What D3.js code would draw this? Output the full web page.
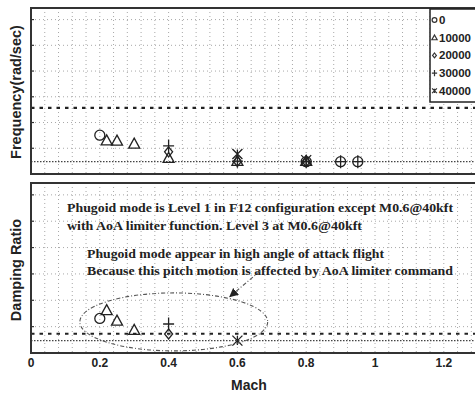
<!DOCTYPE html>
<html><head><meta charset="utf-8">
<script src="https://cdn.jsdelivr.net/npm/d3@7"></script>
<style>body{margin:0;background:#fff}svg{display:block}</style>
</head><body>
<svg id="c" width="475" height="394"></svg>
<script>
// ---- data ----
const altitudes = ["0", "10000", "20000", "30000", "40000"];
const shapes = ["circle", "triangle", "diamond", "plus", "x"];
// frequency (rad/sec) per altitude: [mach, value]
const freq0     = [[0.2, 0.151], [0.8, 0.048], [0.9, 0.048], [0.95, 0.048]];
const freq10000 = [[0.22, 0.130], [0.25, 0.129], [0.3, 0.117], [0.4, 0.062], [0.6, 0.050], [0.8, 0.050]];
const freq20000 = [[0.4, 0.086], [0.6, 0.049], [0.8, 0.048]];
const freq30000 = [[0.4, 0.109], [0.6, 0.050], [0.8, 0.049], [0.9, 0.048], [0.95, 0.048]];
const freq40000 = [[0.6, 0.078], [0.8, 0.054]];
// damping ratio per altitude
const damp0     = [[0.2, 0.131]];
const damp10000 = [[0.22, 0.162], [0.25, 0.122], [0.3, 0.087]];
const damp20000 = [[0.4, 0.072]];
const damp30000 = [[0.4, 0.110]];
const damp40000 = [[0.6, 0.047]];
// requirement lines
const freqLimits = [0.257, 0.048];
const dampLimits = [0.073, 0.047];
const xTicks = [0, 0.2, 0.4, 0.6, 0.8, 1, 1.2];
const xTickLabels = ["0", "0.2", "0.4", "0.6", "0.8", "1", "1.2"];
const notes1 = ["Phugoid mode is Level 1 in F12 configuration except M0.6@40kft",
                "with AoA limiter function. Level 3 at M0.6@40kft"];
const notes2 = ["Phugoid mode appear in high angle of attack flight",
                "Because this pitch motion is affected by AoA limiter command"];

const freqSeries = [freq0, freq10000, freq20000, freq30000, freq40000];
const dampSeries = [damp0, damp10000, damp20000, damp30000, damp40000];

// ---- layout ----
const svg = d3.select("#c");
const x = d3.scaleLinear().domain([0, 1.4]).range([31, 31 + 1.4 * 344]);
const yF = d3.scaleLinear().domain([0, 0.645]).range([174, 8]);
const yD = d3.scaleLinear().domain([0, 0.645]).range([353, 183]);

function symPath(shape, s) {
  switch (shape) {
    case "circle": return d3.symbol(d3.symbolCircle, s * s * Math.PI)();
    case "triangle": { const h = s * 1.9; return `M0,${-h*0.6}L${s*1.1},${h*0.45}L${-s*1.1},${h*0.45}Z`; }
    case "diamond": return `M0,${-s}L${s*0.8},0L0,${s}L${-s*0.8},0Z`;
    case "plus": return `M0,${-s*1.3}V${s*1.3}M${-s*1.1},0H${s*1.1}`;
    case "x": return `M${-s},${-s}L${s},${s}M${-s},${s}L${s},${-s}M0,${-s*0.9}V${s*0.9}`;
  }
}

function panel(y, series, limits, top, bottom) {
  const g = svg.append("g");
  const x0 = x(0), x1 = 480;
  // grid
  const vgrid = d3.range(0.04, 1.4, 0.04);
  g.selectAll(".vg").data(vgrid).join("line")
    .attr("x1", d => x(d)).attr("x2", d => x(d)).attr("y1", top).attr("y2", bottom)
    .attr("stroke", "#a8a8a8").attr("stroke-width", 1).attr("stroke-dasharray", "1,3");
  const hgrid = d3.range(0.1, 0.61, 0.1);
  g.selectAll(".hg").data(hgrid).join("line")
    .attr("x1", x0).attr("x2", x1).attr("y1", d => y(d)).attr("y2", d => y(d))
    .attr("stroke", "#a8a8a8").attr("stroke-width", 1).attr("stroke-dasharray", "1,3");
  g.selectAll(".tk").data(hgrid).join("line")
    .attr("x1", x0).attr("x2", x0 + 3).attr("y1", d => y(d)).attr("y2", d => y(d))
    .attr("stroke", "#333").attr("stroke-width", 1.2);
  // limit lines
  g.append("line").attr("x1", x0).attr("x2", x1).attr("y1", y(limits[0])).attr("y2", y(limits[0]))
    .attr("stroke", "#222").attr("stroke-width", 2.2).attr("stroke-dasharray", "3.5,5");
  g.append("line").attr("x1", x0).attr("x2", x1).attr("y1", y(limits[1])).attr("y2", y(limits[1]))
    .attr("stroke", "#444").attr("stroke-width", 1.2).attr("stroke-dasharray", "1.5,1.5");
  // frame
  g.append("rect").attr("x", x0).attr("y", top).attr("width", 460).attr("height", bottom - top)
    .attr("fill", "none").attr("stroke", "#333").attr("stroke-width", 2);
  // markers
  series.forEach((data, i) => {
    g.selectAll(".m" + i).data(data).join("path")
      .attr("transform", d => `translate(${x(d[0])},${y(d[1])})`)
      .attr("d", symPath(shapes[i], 5))
      .attr("fill", "none").attr("stroke", "#222").attr("stroke-width", 1.3);
  });
  return g;
}

panel(yF, freqSeries, freqLimits, 8, 174);
panel(yD, dampSeries, dampLimits, 183, 353);

// legend
const lg = svg.append("g");
lg.append("rect").attr("x", 430).attr("y", 9).attr("width", 60).attr("height", 93)
  .attr("fill", "#fff").attr("stroke", "#222").attr("stroke-width", 1.5);
altitudes.forEach((a, i) => {
  const yy = 20 + i * 17.7;
  lg.append("path").attr("transform", `translate(434.5,${yy})`).attr("d", symPath(shapes[i], 2.4))
    .attr("fill", "none").attr("stroke", "#333").attr("stroke-width", 1.2);
  lg.append("text").attr("x", 439).attr("y", yy + 4).text(a)
    .attr("font-family", "Liberation Sans, Arial, sans-serif").attr("font-weight", "bold")
    .attr("font-size", 11.5).attr("fill", "#222");
});

// x axis labels
svg.selectAll(".xl").data(xTicks).join("text")
  .attr("x", d => x(d)).attr("y", 367).attr("text-anchor", "middle")
  .text((d, i) => xTickLabels[i])
  .attr("font-family", "Liberation Sans, Arial, sans-serif").attr("font-weight", "bold")
  .attr("font-size", 12).attr("fill", "#222");
svg.append("text").attr("x", 249).attr("y", 390).attr("text-anchor", "middle").text("Mach")
  .attr("font-family", "Liberation Sans, Arial, sans-serif").attr("font-weight", "bold")
  .attr("font-size", 14).attr("fill", "#222");

// y labels
svg.append("text").attr("transform", "translate(21,92) rotate(-90)").attr("text-anchor", "middle")
  .text("Frequency(rad/sec)")
  .attr("font-family", "Liberation Sans, Arial, sans-serif").attr("font-weight", "bold")
  .attr("font-size", 14.5).attr("fill", "#222");
svg.append("text").attr("transform", "translate(21,270) rotate(-90)").attr("text-anchor", "middle")
  .text("Damping Ratio")
  .attr("font-family", "Liberation Sans, Arial, sans-serif").attr("font-weight", "bold")
  .attr("font-size", 14.5).attr("fill", "#222");

// annotations
const serif = "Liberation Serif, Times New Roman, serif";
[[67, 212, 386], [67, 230, 295]].forEach((p, i) => {
  svg.append("text").attr("x", p[0]).attr("y", p[1]).text(notes1[i])
    .attr("font-family", serif).attr("font-weight", "bold").attr("font-size", 12.5)
    .attr("textLength", p[2]).attr("lengthAdjust", "spacingAndGlyphs").attr("fill", "#222");
});
[[87, 258, 297], [87, 275, 366]].forEach((p, i) => {
  svg.append("text").attr("x", p[0]).attr("y", p[1]).text(notes2[i])
    .attr("font-family", serif).attr("font-weight", "bold").attr("font-size", 12.5)
    .attr("textLength", p[2]).attr("lengthAdjust", "spacingAndGlyphs").attr("fill", "#222");
});

// ellipse + arrow annotation (data coords)
const ellC = [0.415, 0.118], ellR = [0.273, 0.11];
svg.append("ellipse").attr("cx", x(ellC[0])).attr("cy", yD(ellC[1]))
  .attr("rx", x(ellR[0]) - x(0)).attr("ry", yD(0) - yD(ellR[1]))
  .attr("fill", "none").attr("stroke", "#555").attr("stroke-width", 1.1)
  .attr("stroke-dasharray", "4,2,1,2");
const arrowFrom = [0.665, 0.31], arrowTo = [0.578, 0.214];
svg.append("defs").append("marker").attr("id", "ah").attr("viewBox", "0 0 10 10")
  .attr("refX", 9).attr("refY", 5).attr("markerWidth", 9).attr("markerHeight", 9)
  .attr("markerUnits", "userSpaceOnUse").attr("orient", "auto")
  .append("path").attr("d", "M0,0L10,5L0,10Z").attr("fill", "#222");
svg.append("line").attr("x1", x(arrowFrom[0])).attr("y1", yD(arrowFrom[1]))
  .attr("x2", x(arrowTo[0])).attr("y2", yD(arrowTo[1]))
  .attr("stroke", "#555").attr("stroke-width", 1.1).attr("stroke-dasharray", "4,2,1,2")
  .attr("marker-end", "url(#ah)");
</script>
</body></html>
